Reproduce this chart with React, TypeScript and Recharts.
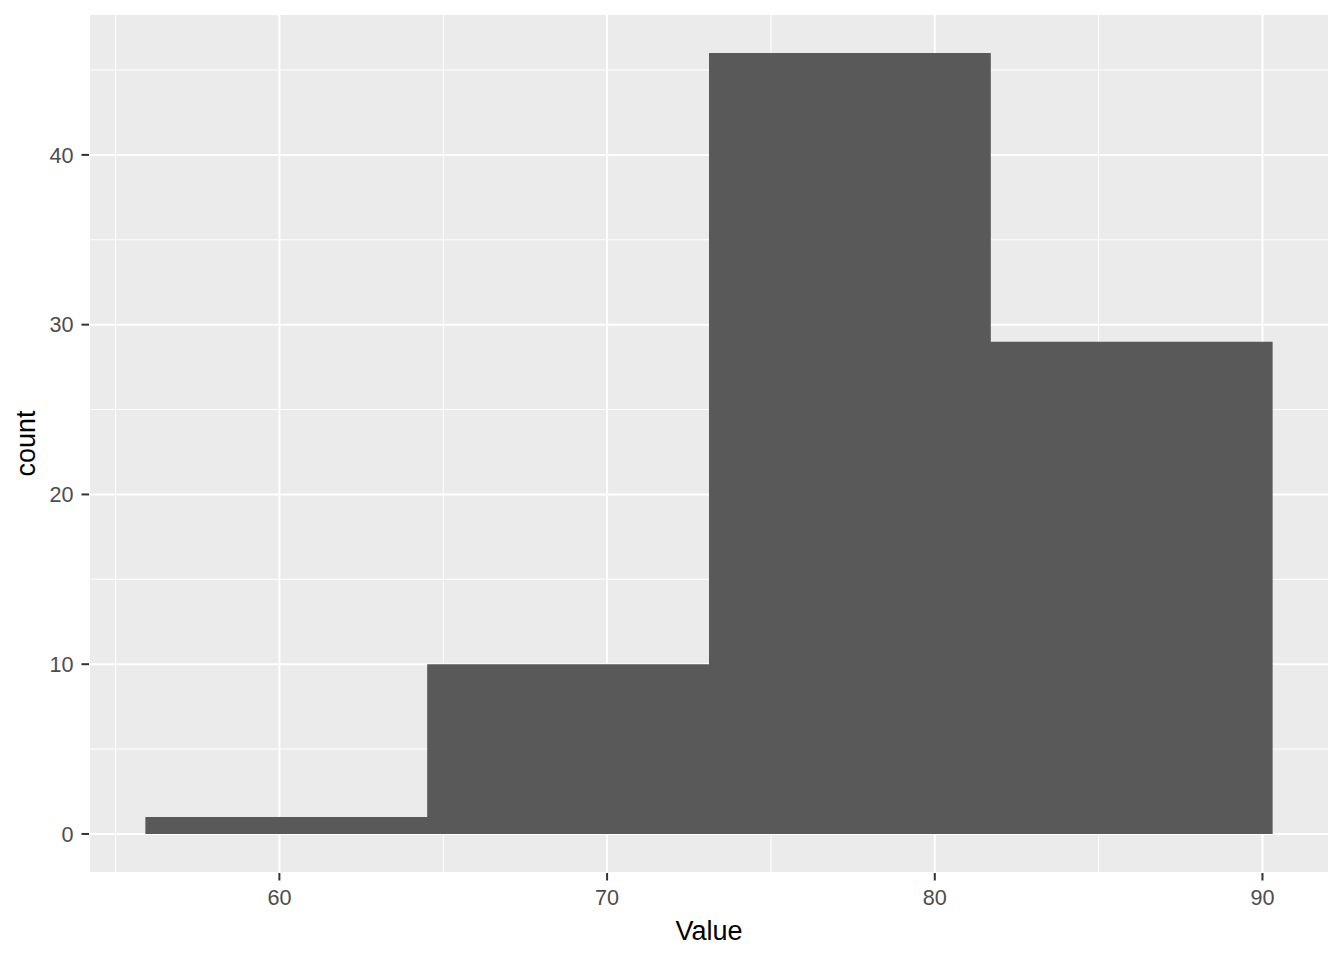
import { ComposedChart, Area, XAxis, YAxis, CartesianGrid } from "recharts";

// histogram bins (left edges + final right edge) and counts
const binEdges = [55.91, 64.51, 73.11, 81.71, 90.31];
const counts = [1, 10, 46, 29];

const xMajorTicks = [60, 70, 80, 90];
const xMinorTicks = [55, 65, 75, 85];
const yMajorTicks = [0, 10, 20, 30, 40];
const yMinorTicks = [5, 15, 25, 35, 45];

const xDomain = [54.19, 92.03];
const yDomain = [-2.3, 48.3];

// step data: each edge carries the count of the bin that starts there
const histData = binEdges.map((edge, i) => ({
  value: edge,
  count: counts[Math.min(i, counts.length - 1)],
}));

const FONT = '"Liberation Sans", Arial, sans-serif';

export default function App() {
  return (
    <div style={{ position: "absolute", left: 0, top: 0, fontFamily: FONT }}>
      <ComposedChart
        width={1344}
        height={960}
        data={histData}
        margin={{ top: 14, right: 15, bottom: 0, left: 0 }}
      >
        <CartesianGrid
          xAxisId="minor"
          yAxisId="minor"
          fill="#EBEBEB"
          stroke="#FFFFFF"
          strokeWidth={1}
        />
        <CartesianGrid stroke="#FFFFFF" strokeWidth={2} />
        <XAxis
          xAxisId="minor"
          type="number"
          dataKey="value"
          domain={xDomain}
          ticks={xMinorTicks}
          allowDataOverflow
          hide
        />
        <YAxis
          yAxisId="minor"
          type="number"
          domain={yDomain}
          ticks={yMinorTicks}
          allowDataOverflow
          hide
        />
        <XAxis
          type="number"
          dataKey="value"
          domain={xDomain}
          ticks={xMajorTicks}
          allowDataOverflow
          axisLine={false}
          tickSize={7.5}
          tickMargin={9}
          tickLine={{ stroke: "#333333", strokeWidth: 2 }}
          tick={{ fill: "#4D4D4D", fontSize: 21.6, fontFamily: FONT }}
          height={87}
          label={{
            value: "Value",
            position: "insideBottom",
            offset: 20,
            fill: "#000000",
            fontSize: 27,
            fontFamily: FONT,
          }}
        />
        <YAxis
          type="number"
          domain={yDomain}
          ticks={yMajorTicks}
          allowDataOverflow
          axisLine={false}
          tickSize={7.5}
          tickMargin={8}
          tickLine={{ stroke: "#333333", strokeWidth: 2 }}
          tick={{ fill: "#4D4D4D", fontSize: 21.6, fontFamily: FONT }}
          width={89}
          label={{
            value: "count",
            angle: -90,
            position: "insideLeft",
            offset: 25,
            fill: "#000000",
            fontSize: 27,
            fontFamily: FONT,
            style: { textAnchor: "middle" },
          }}
        />
        <Area
          type="stepAfter"
          dataKey="count"
          baseValue={0}
          stroke="none"
          fill="#595959"
          fillOpacity={1}
          dot={false}
          activeDot={false}
          isAnimationActive={false}
        />
      </ComposedChart>
    </div>
  );
}
